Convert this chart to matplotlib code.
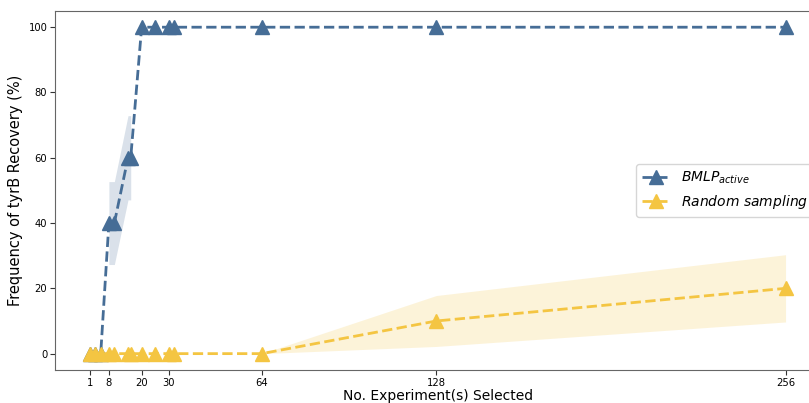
import matplotlib.pyplot as plt
import numpy as np

# experiments selected
n_exp = [1, 3, 5, 8, 10, 15, 16, 20, 25, 30, 32, 64, 128, 256]

# BMLP_active recovery (%) and band
bmlp_mean = [0, 0, 0, 40, 40, 60, 60, 100, 100, 100, 100, 100, 100, 100]
bmlp_lo = [0, 0, 0, 27.3, 27.3, 47.1, 47.1, 100, 100, 100, 100, 100, 100, 100]
bmlp_hi = [0, 0, 0, 52.7, 52.7, 72.9, 72.9, 100, 100, 100, 100, 100, 100, 100]

# random sampling recovery (%) and band
rand_mean = [0, 0, 0, 0, 0, 0, 0, 0, 0, 0, 0, 0, 10, 20]
rand_lo = [0, 0, 0, 0, 0, 0, 0, 0, 0, 0, 0, 0, 2.2, 9.7]
rand_hi = [0, 0, 0, 0, 0, 0, 0, 0, 0, 0, 0, 0, 17.8, 30.3]

xticks = [1, 8, 20, 30, 64, 128, 256]

blue = '#466d96'
yellow = '#f4c542'

x = np.array(n_exp)
fig = plt.figure(figsize=(8.09, 4.03), dpi=100)
ax = fig.add_axes([0.068, 0.082, 0.946, 0.891])

bmask = (x >= 8) & (x <= 16)
ax.fill_between(x[bmask], np.array(bmlp_lo)[bmask], np.array(bmlp_hi)[bmask],
                color=blue, alpha=0.2, lw=0)
rmask = x >= 64
ax.fill_between(x[rmask], np.array(rand_lo)[rmask], np.array(rand_hi)[rmask],
                color=yellow, alpha=0.2, lw=0)

ax.plot(x, bmlp_mean, '--^', color=blue, lw=2, markersize=9.5,
        label=r'$BMLP_{active}$')
ax.plot(x, rand_mean, '--^', color=yellow, lw=2, markersize=9.5,
        label=r'$Random\ sampling$')

ax.set_xlim(-11.75, 268.75)
ax.set_ylim(-5, 105)
ax.set_xticks(xticks)
ax.set_yticks([0, 20, 40, 60, 80, 100])
ax.tick_params(labelsize=7.2, colors='#333333', labelcolor='black', pad=2)
for s in ax.spines.values():
    s.set_color('#666666')

ax.set_xlabel('No. Experiment(s) Selected', fontsize=10, labelpad=1)
ax.set_ylabel('Frequency of tyrB Recovery (%)', fontsize=10.5, labelpad=4)
ax.legend(loc='center right', fontsize=10, frameon=True)

fig.savefig('out.png', dpi=100)
